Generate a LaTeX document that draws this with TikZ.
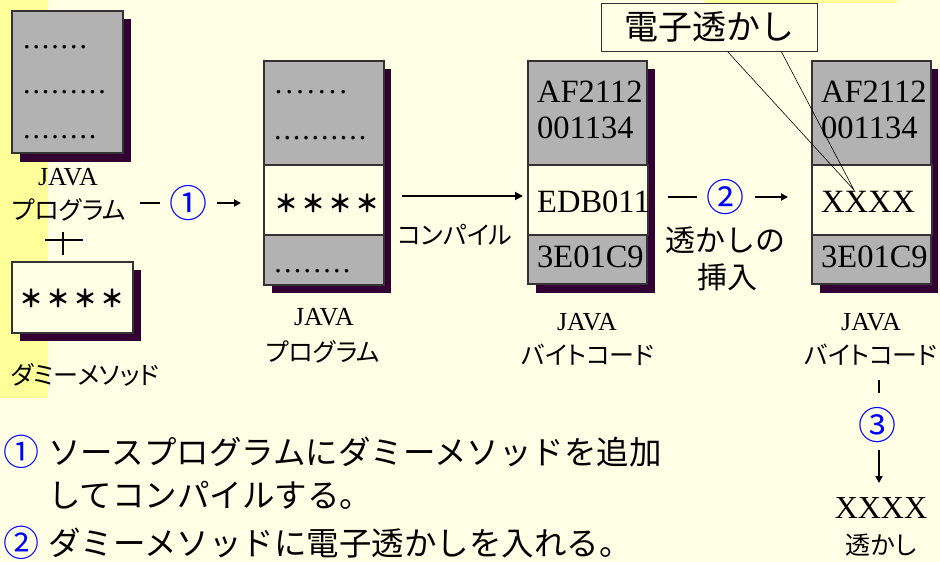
\documentclass[tikz,border=0pt]{standalone}
\usepackage{fontspec}
\setmainfont{Liberation Serif}
\newfontfamily\jp{Noto Sans CJK JP}
\newfontfamily\jpp[RawFeature=+palt]{Noto Sans CJK JP}
\usetikzlibrary{arrows.meta}
\definecolor{bg}{HTML}{FFFFE5}
\definecolor{strip}{HTML}{FFFF99}
\definecolor{boxgray}{HTML}{B2B2B2}
\definecolor{shadowc}{HTML}{330033}
\definecolor{edgec}{HTML}{333333}
\definecolor{numblue}{HTML}{0000FF}
\newcommand\dotrow[2]{\foreach \k in {1,...,#1}{\makebox[#2pt]{.}}}
\newcommand\starrow{\foreach \k in {1,...,4}{\makebox[27pt]{\bfseries ＊}}}
\tikzset{
  lbl/.style={font=\jpp\fontsize{25}{25}\selectfont, inner sep=0},
  bigjp/.style={font=\jp\fontsize{30}{30}\selectfont, inner sep=0},
  bodyjp/.style={font=\jp\fontsize{32.5}{32.5}\selectfont, inner sep=0, anchor=west},
  java/.style={font=\fontsize{26}{26}\selectfont, inner sep=0},
  hex/.style={font=\fontsize{32.5}{32.5}\selectfont, inner sep=0, anchor=west},
  dotsline/.style={font=\fontsize{30}{30}\selectfont, inner sep=0, anchor=west},
  stars/.style={font=\jp\fontsize{24}{24}\selectfont, inner sep=0},
  num/.style={font=\jp\fontsize{38}{38}\selectfont, text=numblue, inner sep=0},
  shadowbox/.style={fill=shadowc, draw=none},
  graybox/.style={fill=boxgray, draw=edgec, line width=1.2pt},
  lightbox/.style={fill=bg, draw=edgec, line width=1.2pt},
  flow/.style={line width=1.8pt, -{Triangle[length=8pt,width=8pt]}},
  shortflow/.style={line width=1.8pt, -{Triangle[length=7pt,width=7pt]}},
  dashseg/.style={line width=2pt},
  pointer/.style={line width=0.6pt, draw=black},
}
\begin{document}
\begin{tikzpicture}[x=1pt,y=-1pt]
\useasboundingbox (0,0) rectangle (940,562);
\fill[bg] (0,0) rectangle (940,562);
\fill[strip] (0,0) rectangle (48,398);
\fill[strip] (705,0) rectangle (897,3);

% ---- box 1: source program
\fill[shadowbox] (20,19) rectangle (131,162);
\draw[graybox] (12,11) rectangle (123,153);
\node[dotsline] (d1a) at (22,47) {\dotrow{7}{9.4}};
\node[dotsline] (d1b) at (22,92) {\dotrow{9}{9.4}};
\node[dotsline] (d1c) at (22,137) {\dotrow{8}{9.4}};
\node[java] (java1) at (68,177) {JAVA};
\node[lbl] (prog1) at (69,210) {プログラム};

% plus sign
\coordinate (plh1) at (45,240); \coordinate (plh2) at (83,240);
\coordinate (plv1) at (63,232); \coordinate (plv2) at (63,255);
\draw[line width=2.5pt] (plh1) -- (plh2);
\draw[line width=2.5pt] (plv1) -- (plv2);

% dummy method box
\fill[shadowbox] (20,270) rectangle (141,341);
\draw[lightbox] (12,262) rectangle (133,333);
\node[stars] (st1) at (72,298) {\starrow};
\node[lbl] (dummy) at (85,375) {ダミーメソッド};

% step 1
\coordinate (s1a) at (140,203); \coordinate (s1b) at (160,203);
\draw[dashseg] (s1a) -- (s1b);
\node[num] (n1) at (188,203) {①};
\coordinate (s1c) at (217,203); \coordinate (s1d) at (241,203);
\draw[shortflow] (s1c) -- (s1d);

% ---- box 2: program with dummy
\fill[shadowbox] (272,69) rectangle (391,293);
\draw[graybox] (264,61) rectangle (384,285);
\draw[lightbox] (264,165) rectangle (384,235);
\node[dotsline] (d2a) at (273,92) {\dotrow{7}{10.8}};
\node[dotsline] (d2b) at (273,138) {\dotrow{10}{9.4}};
\node[dotsline] (d2c) at (273,271) {\dotrow{8}{9.8}};
\node[stars] (st2) at (327,203) {\starrow};
\node[java] (java2) at (324,317) {JAVA};
\node[lbl] (prog2) at (323,352) {プログラム};

% compile arrow
\coordinate (c1) at (402,196); \coordinate (c2) at (523,196);
\draw[flow] (c1) -- (c2);
\node[lbl] (compile) at (455,235) {コンパイル};

% ---- box 3: bytecode
\fill[shadowbox] (536,69) rectangle (655,293);
\draw[graybox] (528,61) rectangle (647,284);
\draw[lightbox] (528,165) rectangle (648,235);
\node[hex] (h3a) at (537,92) {AF2112};
\node[hex] (h3b) at (537,128) {001134};
\node[hex] (h3c) at (537,202) {EDB011};
\node[hex] (h3d) at (537,257) {3E01C9};
\node[java] (java3) at (587,322) {JAVA};
\node[lbl] (bc3) at (588,355) {バイトコード};

% step 2
\coordinate (s2a) at (668,197); \coordinate (s2b) at (697,197);
\draw[dashseg] (s2a) -- (s2b);
\node[num] (n2) at (725,197) {②};
\coordinate (s2c) at (755,197); \coordinate (s2d) at (788,197);
\draw[shortflow] (s2c) -- (s2d);
\node[bigjp] (ins1) at (725,240) {透かしの};
\node[bigjp] (ins2) at (727,277) {挿入};

% ---- box 4: watermarked bytecode
\fill[shadowbox] (820,69) rectangle (938,293);
\draw[graybox] (812,61) rectangle (931,284);
\draw[lightbox] (812,165) rectangle (932,235);
\node[hex] (h4a) at (821,92) {AF2112};
\node[hex] (h4b) at (821,128) {001134};
\node[hex] (h4c) at (821,202) {XXXX};
\node[hex] (h4d) at (821,257) {3E01C9};
\node[java] (java4) at (871,322) {JAVA};
\node[lbl] (bc4) at (871,355) {バイトコード};

% callout
\coordinate (tip) at (854,190);
\coordinate (cl1) at (727,51); \coordinate (cl2) at (781,51);
\draw[pointer] (cl1) -- (tip) -- (cl2);
\node[draw=edgec, fill=bg, line width=1pt, minimum width=216pt, minimum height=48pt, inner sep=0,
      font=\jp\fontsize{34}{34}\selectfont] (callout) at (709,27) {電子透かし};

% step 3
\coordinate (s3a) at (879,380); \coordinate (s3b) at (879,393);
\draw[line width=2pt] (s3a) -- (s3b);
\node[num] (n3) at (877,425) {③};
\coordinate (s3c) at (879,450); \coordinate (s3d) at (879,483);
\draw[shortflow] (s3c) -- (s3d);
\node[font=\fontsize{32}{32}\selectfont, inner sep=0] (wm) at (881,508) {XXXX};
\node[lbl] (wmlbl) at (881,545) {透かし};

% bottom notes
\node[num, font=\jp\fontsize{36}{36}\selectfont] (b1) at (22,452) {①};
\node[bodyjp] (t1) at (48,452) {ソースプログラムにダミーメソッドを追加};
\node[bodyjp] (t2) at (48,495) {してコンパイルする。};
\node[num, font=\jp\fontsize{36}{36}\selectfont] (b2) at (22,543) {②};
\node[bodyjp] (t3) at (48,543) {ダミーメソッドに電子透かしを入れる。};
\end{tikzpicture}
\end{document}
